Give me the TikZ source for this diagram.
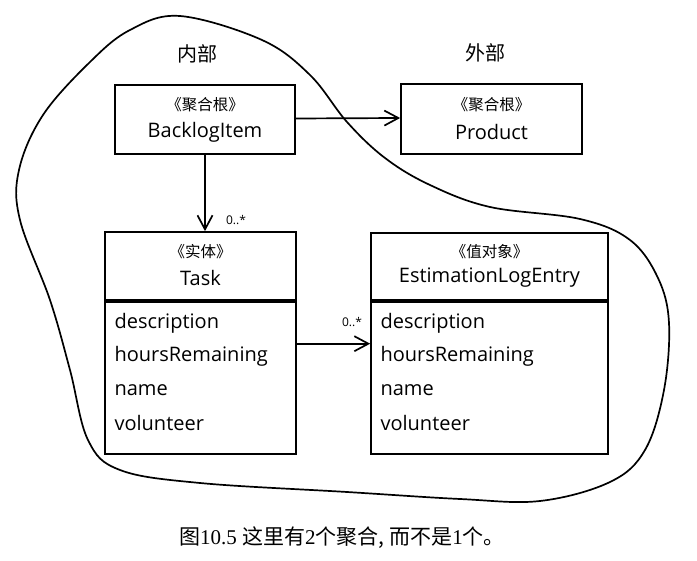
\documentclass[tikz,border=0pt]{standalone}
\usepackage{fontspec}
\setmainfont{Open Sans}
\newfontfamily\cjk{Noto Sans CJK SC}
\newfontfamily\capserif{Liberation Serif}
\newfontfamily\capcjk{Noto Sans CJK SC}
\usetikzlibrary{arrows.meta}
\begin{document}
\begin{tikzpicture}[x=1pt,y=-1pt,
  box/.style={draw, line width=1.7pt, inner sep=0pt},
  stereo/.style={font=\cjk\fontsize{15.5}{17}\selectfont},
  cname/.style={font=\fontsize{20}{22}\selectfont},
  attr/.style={font=\fontsize{20}{22}\selectfont, anchor=west},
  mult/.style={font=\fontsize{12}{14}\selectfont},
  zone/.style={font=\cjk\fontsize{20}{22}\selectfont},
  assoc/.style={line width=1.7pt, -{Straight Barb[length=14pt,width=15pt,line width=1.7pt]}},
  blob/.style={line width=1.7pt}
]
\useasboundingbox (0,0) rectangle (697,561);
\fill[white] (0,0) rectangle (697,561);

% aggregate boundary
\draw[blob] plot[smooth cycle, tension=0.6] coordinates {
 (180,16) (262,40) (310,75) (347,122) (385,158) (430,185) (490,207) (580,219)
 (630,240) (658,278) (669,323) (664,390) (645,450) (610,482) (540,501) (460,499)
 (347,492) (200,483) (120,470) (88,440) (70,370) (50,300) (20,220) (19,170)
 (43,115) (90,62) (130,30)};

\node[zone] (inner) at (197,54) {内部};
\node[zone] (outer) at (485,53) {外部};

% BacklogItem
\node[box, minimum width=180, minimum height=69] (bi) at (205,119.5) {};
\node[stereo] (bist) at (205,105) {《聚合根》};
\node[cname] (binm) at (205,132) {BacklogItem};

% Product
\node[box, minimum width=181, minimum height=70] (pr) at (491.5,119) {};
\node[stereo] (prst) at (491.5,105) {《聚合根》};
\node[cname] (prnm) at (491.5,132) {Product};

% Task
\node[box, minimum width=191, minimum height=68] (th) at (200.5,266) {};
\node[box, minimum width=191, minimum height=152, anchor=north] (ta) at (th.south) {};
\node[stereo] (tst) at (200.5,252) {《实体》};
\node[cname] (tnm) at (200.5,278) {Task};
\node[attr] (t1) at (111,323) {description};
\node[attr] (t2) at (111,356) {hoursRemaining};
\node[attr] (t3) at (111,390) {name};
\node[attr] (t4) at (111,423) {volunteer};

% EstimationLogEntry
\node[box, minimum width=237, minimum height=67] (eh) at (489.5,266.5) {};
\node[box, minimum width=237, minimum height=152, anchor=north] (ea) at (eh.south) {};
\node[stereo] (est) at (489.5,252) {《值对象》};
\node[cname] (enm) at (489.5,278) {EstimationLogEntry};
\node[attr] (e1) at (377,323) {description};
\node[attr] (e2) at (377,356) {hoursRemaining};
\node[attr] (e3) at (377,390) {name};
\node[attr] (e4) at (377,423) {volunteer};

% associations
\draw[assoc] (bi.south) -- (bi.south |- th.north);
\draw[assoc] ([yshift=1pt]bi.east) -- ([yshift=1pt]pr.west);
\draw[assoc] ([yshift=34pt]ta.east) -- ([yshift=34pt]ea.west);
\node[mult] (m1) at (236,220) {0..*};
\node[mult] (m2) at (352,322) {0..*};

% caption
\node[font=\fontsize{21}{23}\selectfont] (cap) at (342,538) {\capcjk 图\capserif 10.5 \capcjk 这里有\capserif 2\capcjk 个聚合, 而不是\capserif 1\capcjk 个。};
\end{tikzpicture}
\end{document}
